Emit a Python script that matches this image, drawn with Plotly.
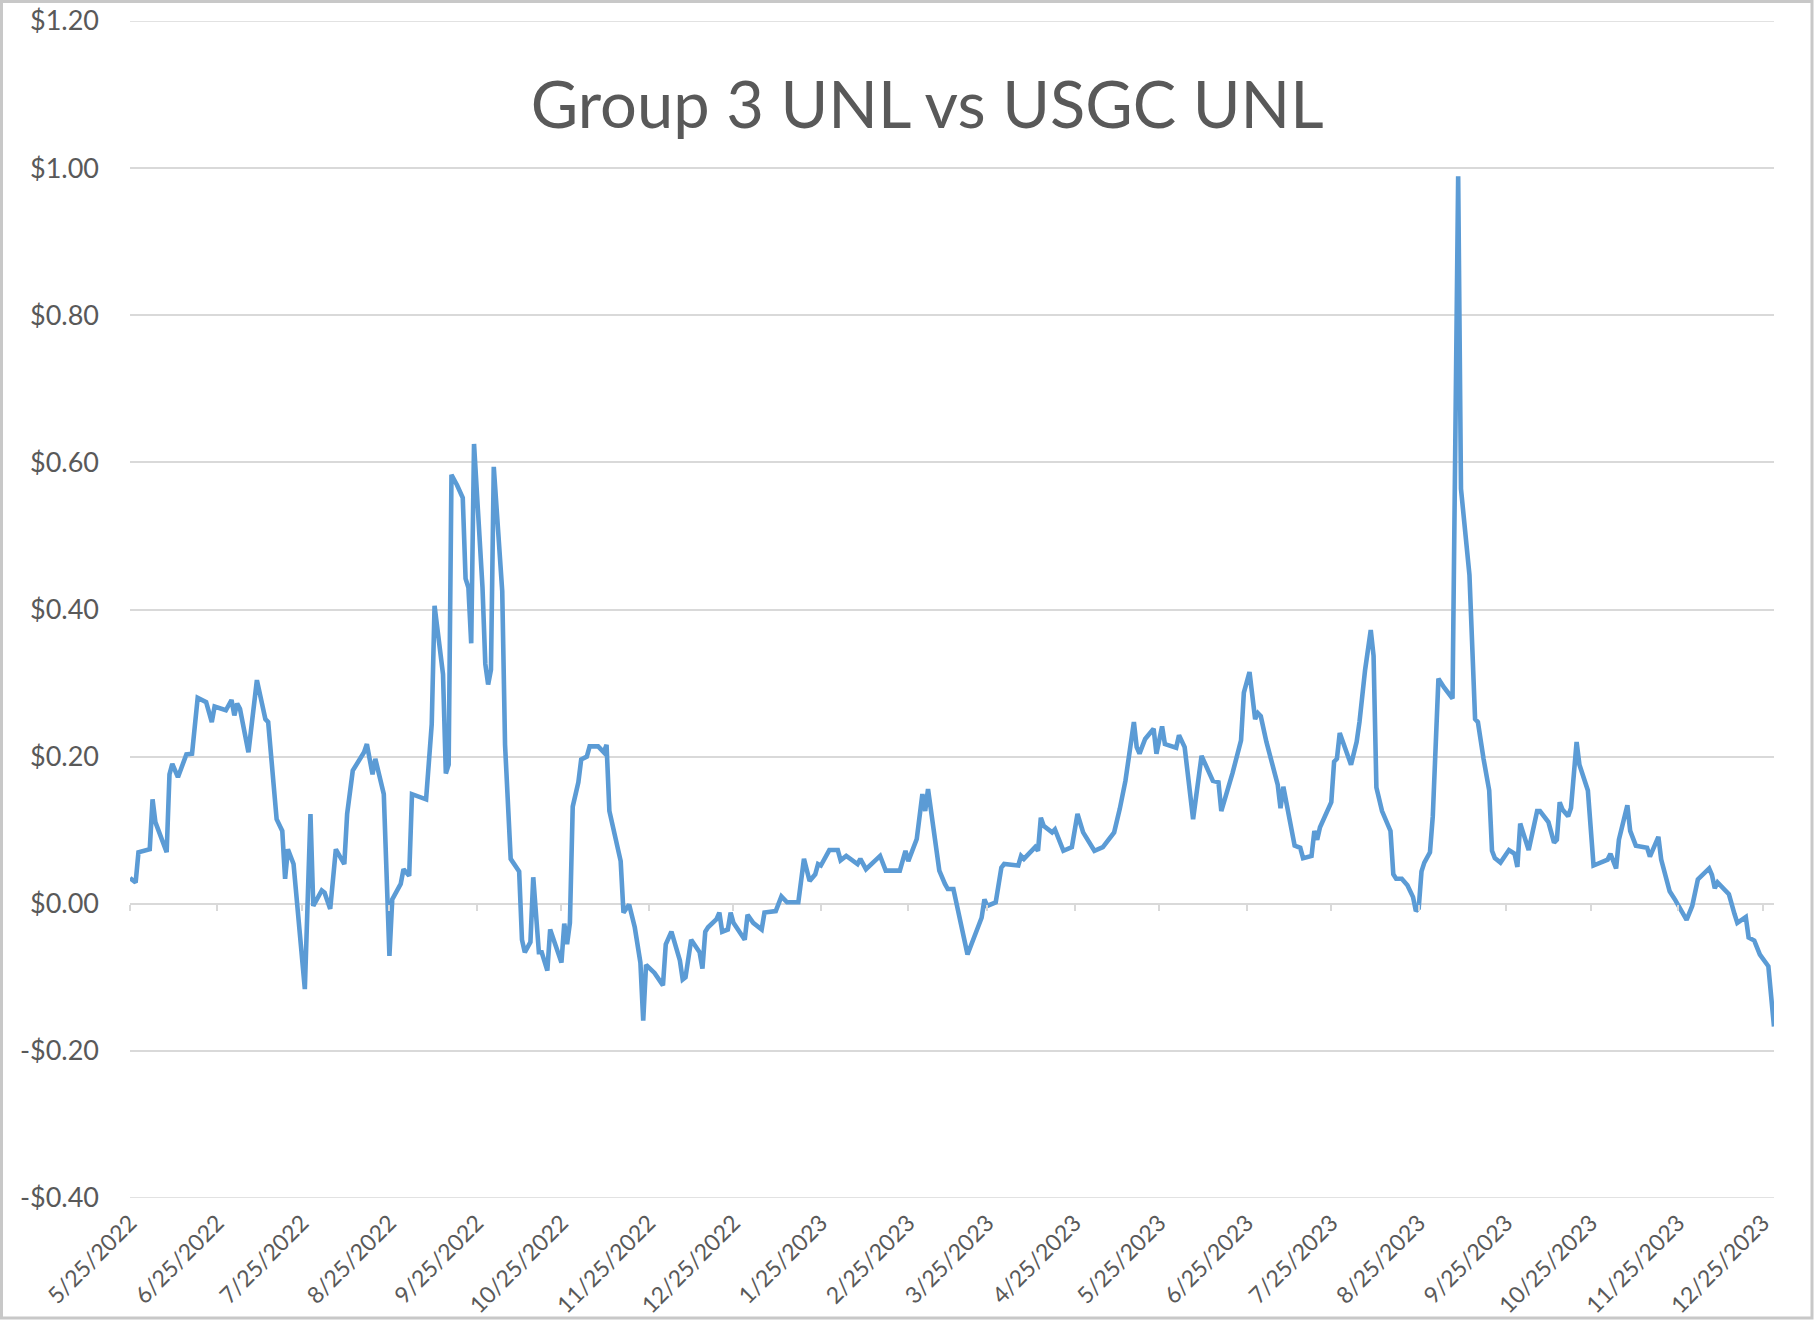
import pandas as pd
import plotly.graph_objects as go

# ---------------- data ----------------
start_date = "2022-05-25"

# days elapsed since start_date for each vertex of the line
day_offsets = [
    0, 2, 3, 7, 8, 9, 13, 14, 15, 17, 20, 22, 24, 27, 29, 30, 34, 36, 37, 38, 39, 42, 45, 48, 49, 50,
    52, 54, 55, 56, 58, 62, 64, 65, 68, 69, 71, 73, 76, 77, 79, 83, 84, 86, 87, 90, 92, 93, 96, 97,
    99, 100, 105, 107, 108, 111, 112, 113, 114, 116, 118, 119, 120, 121, 122, 125, 126, 127, 128, 129,
    132, 133, 135, 138, 139, 140, 142, 143, 145, 146, 148, 149, 151, 153, 154, 155, 156, 157, 159, 160,
    162, 163, 166, 168, 169, 170, 174, 175, 177, 179, 181, 182, 183, 186, 189, 190, 192, 195, 196, 197,
    199, 202, 203, 204, 205, 208, 209, 210, 212, 213, 214, 218, 219, 221, 224, 225, 229, 231, 233, 237,
    239, 241, 243, 244, 245, 248, 251, 252, 254, 258, 259, 261, 266, 268, 273, 275, 276, 279, 281, 282,
    283, 284, 287, 289, 290, 292, 297, 302, 303, 304, 307, 309, 310, 315, 316, 317, 321, 322, 323, 324,
    327, 328, 331, 334, 336, 338, 342, 345, 349, 351, 353, 356, 357, 358, 360, 363, 364, 366, 367, 371,
    372, 374, 377, 380, 384, 386, 387, 391, 394, 395, 397, 399, 400, 401, 403, 407, 408, 409, 410, 413,
    415, 416, 419, 420, 421, 422, 426, 427, 428, 429, 433, 435, 436, 438, 440, 441, 442, 444, 447, 448,
    449, 451, 453, 455, 456, 457, 458, 459, 461, 462, 464, 466, 469, 471, 472, 473, 475, 477, 478, 480,
    482, 483, 484, 486, 489, 491, 492, 493, 496, 499, 500, 503, 505, 506, 507, 508, 510, 511, 513, 514,
    517, 519, 522, 524, 525, 527, 528, 531, 532, 534, 538, 539, 542, 543, 546, 548, 552, 554, 556, 560,
    561, 562, 563, 567, 569, 570, 573, 574, 576, 578, 581, 582, 583,
]

spread_values = [
    0.035, 0.029, 0.070, 0.074, 0.142, 0.111, 0.070, 0.176, 0.190, 0.172, 0.203, 0.204, 0.280, 0.274,
    0.247, 0.268, 0.263, 0.277, 0.256, 0.272, 0.265, 0.206, 0.304, 0.251, 0.247, 0.199,
    0.115, 0.099, 0.034, 0.074, 0.054, -0.116, 0.122, -0.003, 0.018, 0.015, -0.007, 0.074, 0.054, 0.122,
    0.181, 0.206, 0.217, 0.176, 0.197, 0.149, -0.071, 0.006, 0.027, 0.047,
    0.038, 0.149, 0.142, 0.244, 0.405, 0.312, 0.177, 0.189, 0.583, 0.569, 0.552, 0.442, 0.430, 0.354,
    0.625, 0.430, 0.326, 0.298, 0.318, 0.594,
    0.425, 0.216, 0.061, 0.044, -0.049, -0.066, -0.052, 0.036, -0.066, -0.066, -0.091, -0.035, -0.060,
    -0.080, -0.027, -0.055, -0.026, 0.132, 0.165, 0.196,
    0.200, 0.214, 0.214, 0.206, 0.216, 0.126, 0.058, -0.012, -0.001, -0.032, -0.080, -0.159, -0.083,
    -0.094, -0.111, -0.055, -0.038, -0.077, -0.103, -0.100,
    -0.049, -0.066, -0.088, -0.038, -0.032, -0.021, -0.012, -0.038, -0.035, -0.012, -0.026, -0.049,
    -0.015, -0.026, -0.035, -0.012, -0.010, 0.010, 0.002, 0.002,
    0.061, 0.031, 0.040, 0.054, 0.052, 0.073, 0.073, 0.059, 0.065, 0.054, 0.061, 0.047, 0.065, 0.045,
    0.045, 0.072, 0.058, 0.088, 0.149, 0.126,
    0.156, 0.126, 0.045, 0.027, 0.020, 0.020, -0.069, -0.019, 0.006, -0.003, 0.002, 0.049, 0.054, 0.052,
    0.065, 0.061, 0.077, 0.072, 0.117, 0.106,
    0.097, 0.101, 0.072, 0.077, 0.122, 0.097, 0.072, 0.077, 0.097, 0.129, 0.167, 0.247, 0.213, 0.204,
    0.224, 0.238, 0.204, 0.241, 0.217, 0.212,
    0.229, 0.213, 0.115, 0.201, 0.167, 0.165, 0.126, 0.178, 0.222, 0.287, 0.315, 0.251, 0.259, 0.255,
    0.220, 0.162, 0.130, 0.159, 0.138, 0.079,
    0.076, 0.062, 0.065, 0.099, 0.087, 0.104, 0.138, 0.193, 0.197, 0.232, 0.189, 0.220, 0.247, 0.318,
    0.372, 0.337, 0.158, 0.126, 0.099, 0.040,
    0.034, 0.034, 0.025, 0.009, -0.010, -0.006, 0.044, 0.056, 0.070, 0.119, 0.306, 0.294, 0.279, 0.989,
    0.564, 0.525, 0.447, 0.251, 0.247, 0.197,
    0.154, 0.072, 0.062, 0.056, 0.073, 0.068, 0.050, 0.109, 0.073, 0.126, 0.126, 0.111, 0.083, 0.087,
    0.138, 0.128, 0.119, 0.130, 0.220, 0.189,
    0.154, 0.052, 0.056, 0.060, 0.068, 0.048, 0.087, 0.134, 0.099, 0.079, 0.076, 0.064, 0.091, 0.060,
    0.017, 0.005, -0.022, -0.003, 0.033, 0.048,
    0.039, 0.021, 0.029, 0.013, -0.014, -0.026, -0.018, -0.046, -0.050, -0.069, -0.085, -0.124, -0.167,
]

x_tick_dates = [
    "2022-05-25", "2022-06-25", "2022-07-25", "2022-08-25", "2022-09-25", "2022-10-25",
    "2022-11-25", "2022-12-25", "2023-01-25", "2023-02-25", "2023-03-25", "2023-04-25",
    "2023-05-25", "2023-06-25", "2023-07-25", "2023-08-25", "2023-09-25", "2023-10-25",
    "2023-11-25", "2023-12-25",
]
x_tick_labels = [
    "5/25/2022", "6/25/2022", "7/25/2022", "8/25/2022", "9/25/2022", "10/25/2022",
    "11/25/2022", "12/25/2022", "1/25/2023", "2/25/2023", "3/25/2023", "4/25/2023",
    "5/25/2023", "6/25/2023", "7/25/2023", "8/25/2023", "9/25/2023", "10/25/2023",
    "11/25/2023", "12/25/2023",
]
y_tick_values = [-0.4, -0.2, 0.0, 0.2, 0.4, 0.6, 0.8, 1.0, 1.2]
y_tick_labels = ["-$0.40", "-$0.20", "$0.00", "$0.20", "$0.40", "$0.60", "$0.80", "$1.00", "$1.20"]

title_text = "Group 3 UNL vs USGC UNL"
x_range = ["2022-05-25", "2023-12-29"]

# ---------------- figure ----------------
dates = pd.Timestamp(start_date) + pd.to_timedelta(day_offsets, unit="D")

W, H = 1818, 1322
ML, MR, MT, MB = 130, 44, 21, 124
TXT = "#595959"
GRID = "#D9D9D9"
FONT = "Lato, 'Open Sans', sans-serif"

y_lo, y_hi = y_tick_values[0], y_tick_values[-1]

fig = go.Figure()
fig.add_trace(go.Scatter(
    x=dates, y=spread_values, mode="lines",
    line=dict(color="#5B9BD5", width=4.6),
    showlegend=False, hoverinfo="x+y",
))
# overlay axis carrying the small tick marks on the zero line
fig.add_trace(go.Scatter(x=[], y=[], xaxis="x2", yaxis="y", showlegend=False, hoverinfo="skip"))

fig.update_layout(
    width=W, height=H,
    margin=dict(l=ML, r=MR, t=MT, b=MB, pad=0, autoexpand=False),
    paper_bgcolor="white", plot_bgcolor="white",
    font=dict(family=FONT, color=TXT),
    title=dict(
        text=title_text, font=dict(size=65, color=TXT, family=FONT),
        x=0.51, xref="container", xanchor="center",
        y=1 - 105 / H, yref="container", yanchor="middle",
        automargin=False,
    ),
    xaxis=dict(
        type="date", range=x_range, automargin=False,
        tickmode="array", tickvals=x_tick_dates, ticktext=x_tick_labels,
        tickangle=-45, tickfont=dict(size=23, color=TXT),
        showgrid=False, zeroline=False, showline=False, ticks="",
        ticklabelstandoff=6,
    ),
    xaxis2=dict(
        type="date", range=x_range, overlaying="x", anchor="free", automargin=False,
        position=(0 - y_lo) / (y_hi - y_lo),
        tickmode="array", tickvals=x_tick_dates, showticklabels=False,
        ticks="outside", ticklen=6, tickcolor=GRID, tickwidth=1.5,
        showgrid=False, zeroline=False, showline=False,
    ),
    yaxis=dict(
        range=[y_lo, y_hi], automargin=False,
        tickmode="array", tickvals=y_tick_values, ticktext=y_tick_labels,
        tickfont=dict(size=27, color=TXT),
        showgrid=True, gridcolor=GRID, gridwidth=1.5,
        zeroline=False, showline=False, ticks="",
        ticklabelstandoff=30,
    ),
)

# gridlines at the two ends of the value axis (plotly skips those on the frame edge)
for yv in (y_lo, y_hi):
    fig.add_shape(
        type="line", xref="paper", yref="y", x0=0, x1=1, y0=yv, y1=yv,
        line=dict(color=GRID, width=1.5), layer="below",
    )

# outer chart border
pw = W - ML - MR
ph = H - MT - MB
fig.add_shape(
    type="rect", xref="paper", yref="paper",
    x0=(1.5 - ML) / pw, x1=(1812 - ML) / pw,
    y0=((H - MB) - 1318) / ph, y1=((H - MB) - 1.5) / ph,
    line=dict(color="#C8C8C8", width=3), fillcolor="rgba(0,0,0,0)", layer="below",
)

# page without the default body margin so the figure fills the window exactly
fig.write_html(
    "out.html",
    config={"displayModeBar": False},
    post_script="document.body.style.margin='0';document.body.style.padding='0';",
)
